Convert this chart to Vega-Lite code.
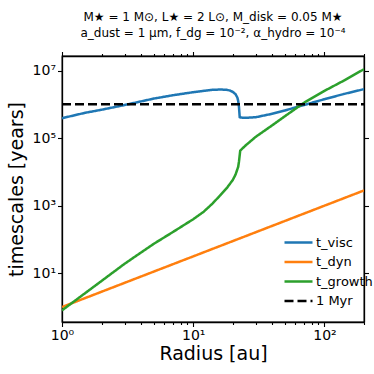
{
  "$schema": "https://vega.github.io/schema/vega-lite/v6.json",
  "width": 302,
  "height": 266,
  "autosize": {"type": "none"},
  "padding": {"left": 62, "top": 56, "right": 10, "bottom": 52},
  "background": "white",
  "config": {
    "font": "DejaVu Sans",
    "view": {"stroke": "black", "strokeWidth": 1.3},
    "axis": {"domainColor": "black", "domainWidth": 1.3, "tickColor": "black", "tickWidth": 1.1, "labelColor": "black", "titleColor": "black", "grid": false, "labelFont": "DejaVu Sans", "titleFont": "DejaVu Sans", "titleFontWeight": "normal", "labelOverlap": false, "labelFlush": false, "labelBound": false}
  },
  "title": {
    "text": ["M★ = 1 M⊙, L★ = 2 L⊙, M_disk = 0.05 M★", "a_dust = 1 μm, f_dg = 10⁻², α_hydro = 10⁻⁴"],
    "fontSize": 12, "fontWeight": "normal", "font": "DejaVu Sans", "anchor": "middle", "offset": 11, "color": "black", "lineHeight": 16
  },
  "datasets": {
    "curves": [
      {"series": "t_visc", "r": 1, "t": 389000},
      {"series": "t_visc", "r": 1.5, "t": 562000},
      {"series": "t_visc", "r": 2, "t": 692000},
      {"series": "t_visc", "r": 3, "t": 955000},
      {"series": "t_visc", "r": 5, "t": 1480000},
      {"series": "t_visc", "r": 7, "t": 1860000},
      {"series": "t_visc", "r": 10, "t": 2290000},
      {"series": "t_visc", "r": 12, "t": 2510000},
      {"series": "t_visc", "r": 14, "t": 2690000},
      {"series": "t_visc", "r": 16, "t": 2750000},
      {"series": "t_visc", "r": 18, "t": 2690000},
      {"series": "t_visc", "r": 19, "t": 2570000},
      {"series": "t_visc", "r": 20, "t": 2340000},
      {"series": "t_visc", "r": 21, "t": 2000000},
      {"series": "t_visc", "r": 21.7, "t": 1580000},
      {"series": "t_visc", "r": 22, "t": 1260000},
      {"series": "t_visc", "r": 22.3, "t": 851000},
      {"series": "t_visc", "r": 22.6, "t": 417000},
      {"series": "t_visc", "r": 23, "t": 407000},
      {"series": "t_visc", "r": 25, "t": 398000},
      {"series": "t_visc", "r": 30, "t": 417000},
      {"series": "t_visc", "r": 40, "t": 525000},
      {"series": "t_visc", "r": 50, "t": 661000},
      {"series": "t_visc", "r": 70, "t": 960000},
      {"series": "t_visc", "r": 100, "t": 1420000},
      {"series": "t_visc", "r": 140, "t": 2020000},
      {"series": "t_visc", "r": 200, "t": 2820000},
      {"series": "t_dyn", "r": 1, "t": 1},
      {"series": "t_dyn", "r": 10, "t": 31.6},
      {"series": "t_dyn", "r": 100, "t": 1000},
      {"series": "t_dyn", "r": 200, "t": 2828},
      {"series": "t_growth", "r": 1, "t": 0.794},
      {"series": "t_growth", "r": 1.5, "t": 2.57},
      {"series": "t_growth", "r": 2, "t": 5.89},
      {"series": "t_growth", "r": 3, "t": 19.1},
      {"series": "t_growth", "r": 5, "t": 74.1},
      {"series": "t_growth", "r": 7, "t": 166},
      {"series": "t_growth", "r": 10, "t": 398},
      {"series": "t_growth", "r": 12, "t": 661},
      {"series": "t_growth", "r": 14, "t": 1150},
      {"series": "t_growth", "r": 16, "t": 2000},
      {"series": "t_growth", "r": 18, "t": 3310},
      {"series": "t_growth", "r": 20, "t": 5750},
      {"series": "t_growth", "r": 21, "t": 8320},
      {"series": "t_growth", "r": 22, "t": 14100},
      {"series": "t_growth", "r": 22.3, "t": 20000},
      {"series": "t_growth", "r": 22.6, "t": 31600},
      {"series": "t_growth", "r": 22.8, "t": 42700},
      {"series": "t_growth", "r": 25, "t": 60300},
      {"series": "t_growth", "r": 30, "t": 110000},
      {"series": "t_growth", "r": 40, "t": 240000},
      {"series": "t_growth", "r": 50, "t": 447000},
      {"series": "t_growth", "r": 70, "t": 1120000},
      {"series": "t_growth", "r": 100, "t": 2510000},
      {"series": "t_growth", "r": 140, "t": 5010000},
      {"series": "t_growth", "r": 200, "t": 11000000},
      {"series": "1 Myr", "r": 1, "t": 1000000},
      {"series": "1 Myr", "r": 200, "t": 1000000}
    ]
  },
  "data": {"name": "curves"},
  "layer": [
    {
      "mark": {"type": "line", "strokeWidth": 2.5, "clip": true},
      "encoding": {
        "x": {
          "field": "r", "type": "quantitative",
          "scale": {"type": "log", "domain": [1, 200], "nice": false},
          "axis": {
            "orient": "bottom",
            "title": "Radius [au]",
            "values": [1, 2, 3, 4, 5, 6, 7, 8, 9, 10, 20, 30, 40, 50, 60, 70, 80, 90, 100, 200],
            "labelExpr": "datum.value == 1 ? '10⁰' : datum.value == 10 ? '10¹' : datum.value == 100 ? '10²' : ''",
            "tickSize": {"condition": {"test": "datum.value == 1 || datum.value == 10 || datum.value == 100", "value": 4.5}, "value": 2.5},
            "labelFontSize": 14, "titleFontSize": 19, "labelPadding": 2, "titlePadding": 2
          }
        },
        "y": {
          "field": "t", "type": "quantitative",
          "scale": {"type": "log", "domain": [0.36, 27000000], "nice": false},
          "axis": {
            "orient": "left",
            "title": "timescales [years]",
            "values": [10, 1000, 100000, 10000000],
            "labelExpr": "datum.value == 10 ? '10¹' : datum.value == 1000 ? '10³' : datum.value == 100000 ? '10⁵' : '10⁷'",
            "tickSize": 4.5,
            "labelFontSize": 14, "titleFontSize": 19, "labelPadding": 2, "titlePadding": 6
          }
        },
        "color": {
          "field": "series", "type": "nominal",
          "scale": {"domain": ["t_visc", "t_dyn", "t_growth", "1 Myr"], "range": ["#1f77b4", "#ff7f0e", "#2ca02c", "#000000"]},
          "legend": {
            "title": null, "orient": "none", "legendX": 221, "legendY": 177,
            "symbolType": "stroke", "symbolSize": 784, "symbolStrokeWidth": 2.5,
            "labelFontSize": 13, "labelFont": "DejaVu Sans", "labelColor": "black", "labelOffset": 2, "rowPadding": 0.5, "clipHeight": 19, "padding": 0
          }
        },
        "strokeDash": {
          "field": "series", "type": "nominal",
          "scale": {"domain": ["t_visc", "t_dyn", "t_growth", "1 Myr"], "range": [[1, 0], [1, 0], [1, 0], [9, 4]]}
        },
        "order": {"field": "r", "type": "quantitative"}
      }
    },
    {
      "mark": {"type": "line", "strokeOpacity": 0, "clip": true},
      "encoding": {
        "x": {
          "field": "r", "type": "quantitative",
          "scale": {"type": "log", "domain": [1, 200], "nice": false},
          "axis": {
            "orient": "top", "title": null, "labels": false,
            "values": [1, 2, 3, 4, 5, 6, 7, 8, 9, 10, 20, 30, 40, 50, 60, 70, 80, 90, 100, 200],
            "tickSize": {"condition": {"test": "datum.value == 1 || datum.value == 10 || datum.value == 100", "value": 4.5}, "value": 2.5}
          }
        },
        "y": {
          "field": "t", "type": "quantitative",
          "scale": {"type": "log", "domain": [0.36, 27000000], "nice": false},
          "axis": {"orient": "right", "title": null, "labels": false, "values": [10, 1000, 100000, 10000000], "tickSize": 4.5}
        },
        "detail": {"field": "series", "type": "nominal"}
      }
    }
  ],
  "resolve": {"axis": {"x": "independent", "y": "independent"}}
}
